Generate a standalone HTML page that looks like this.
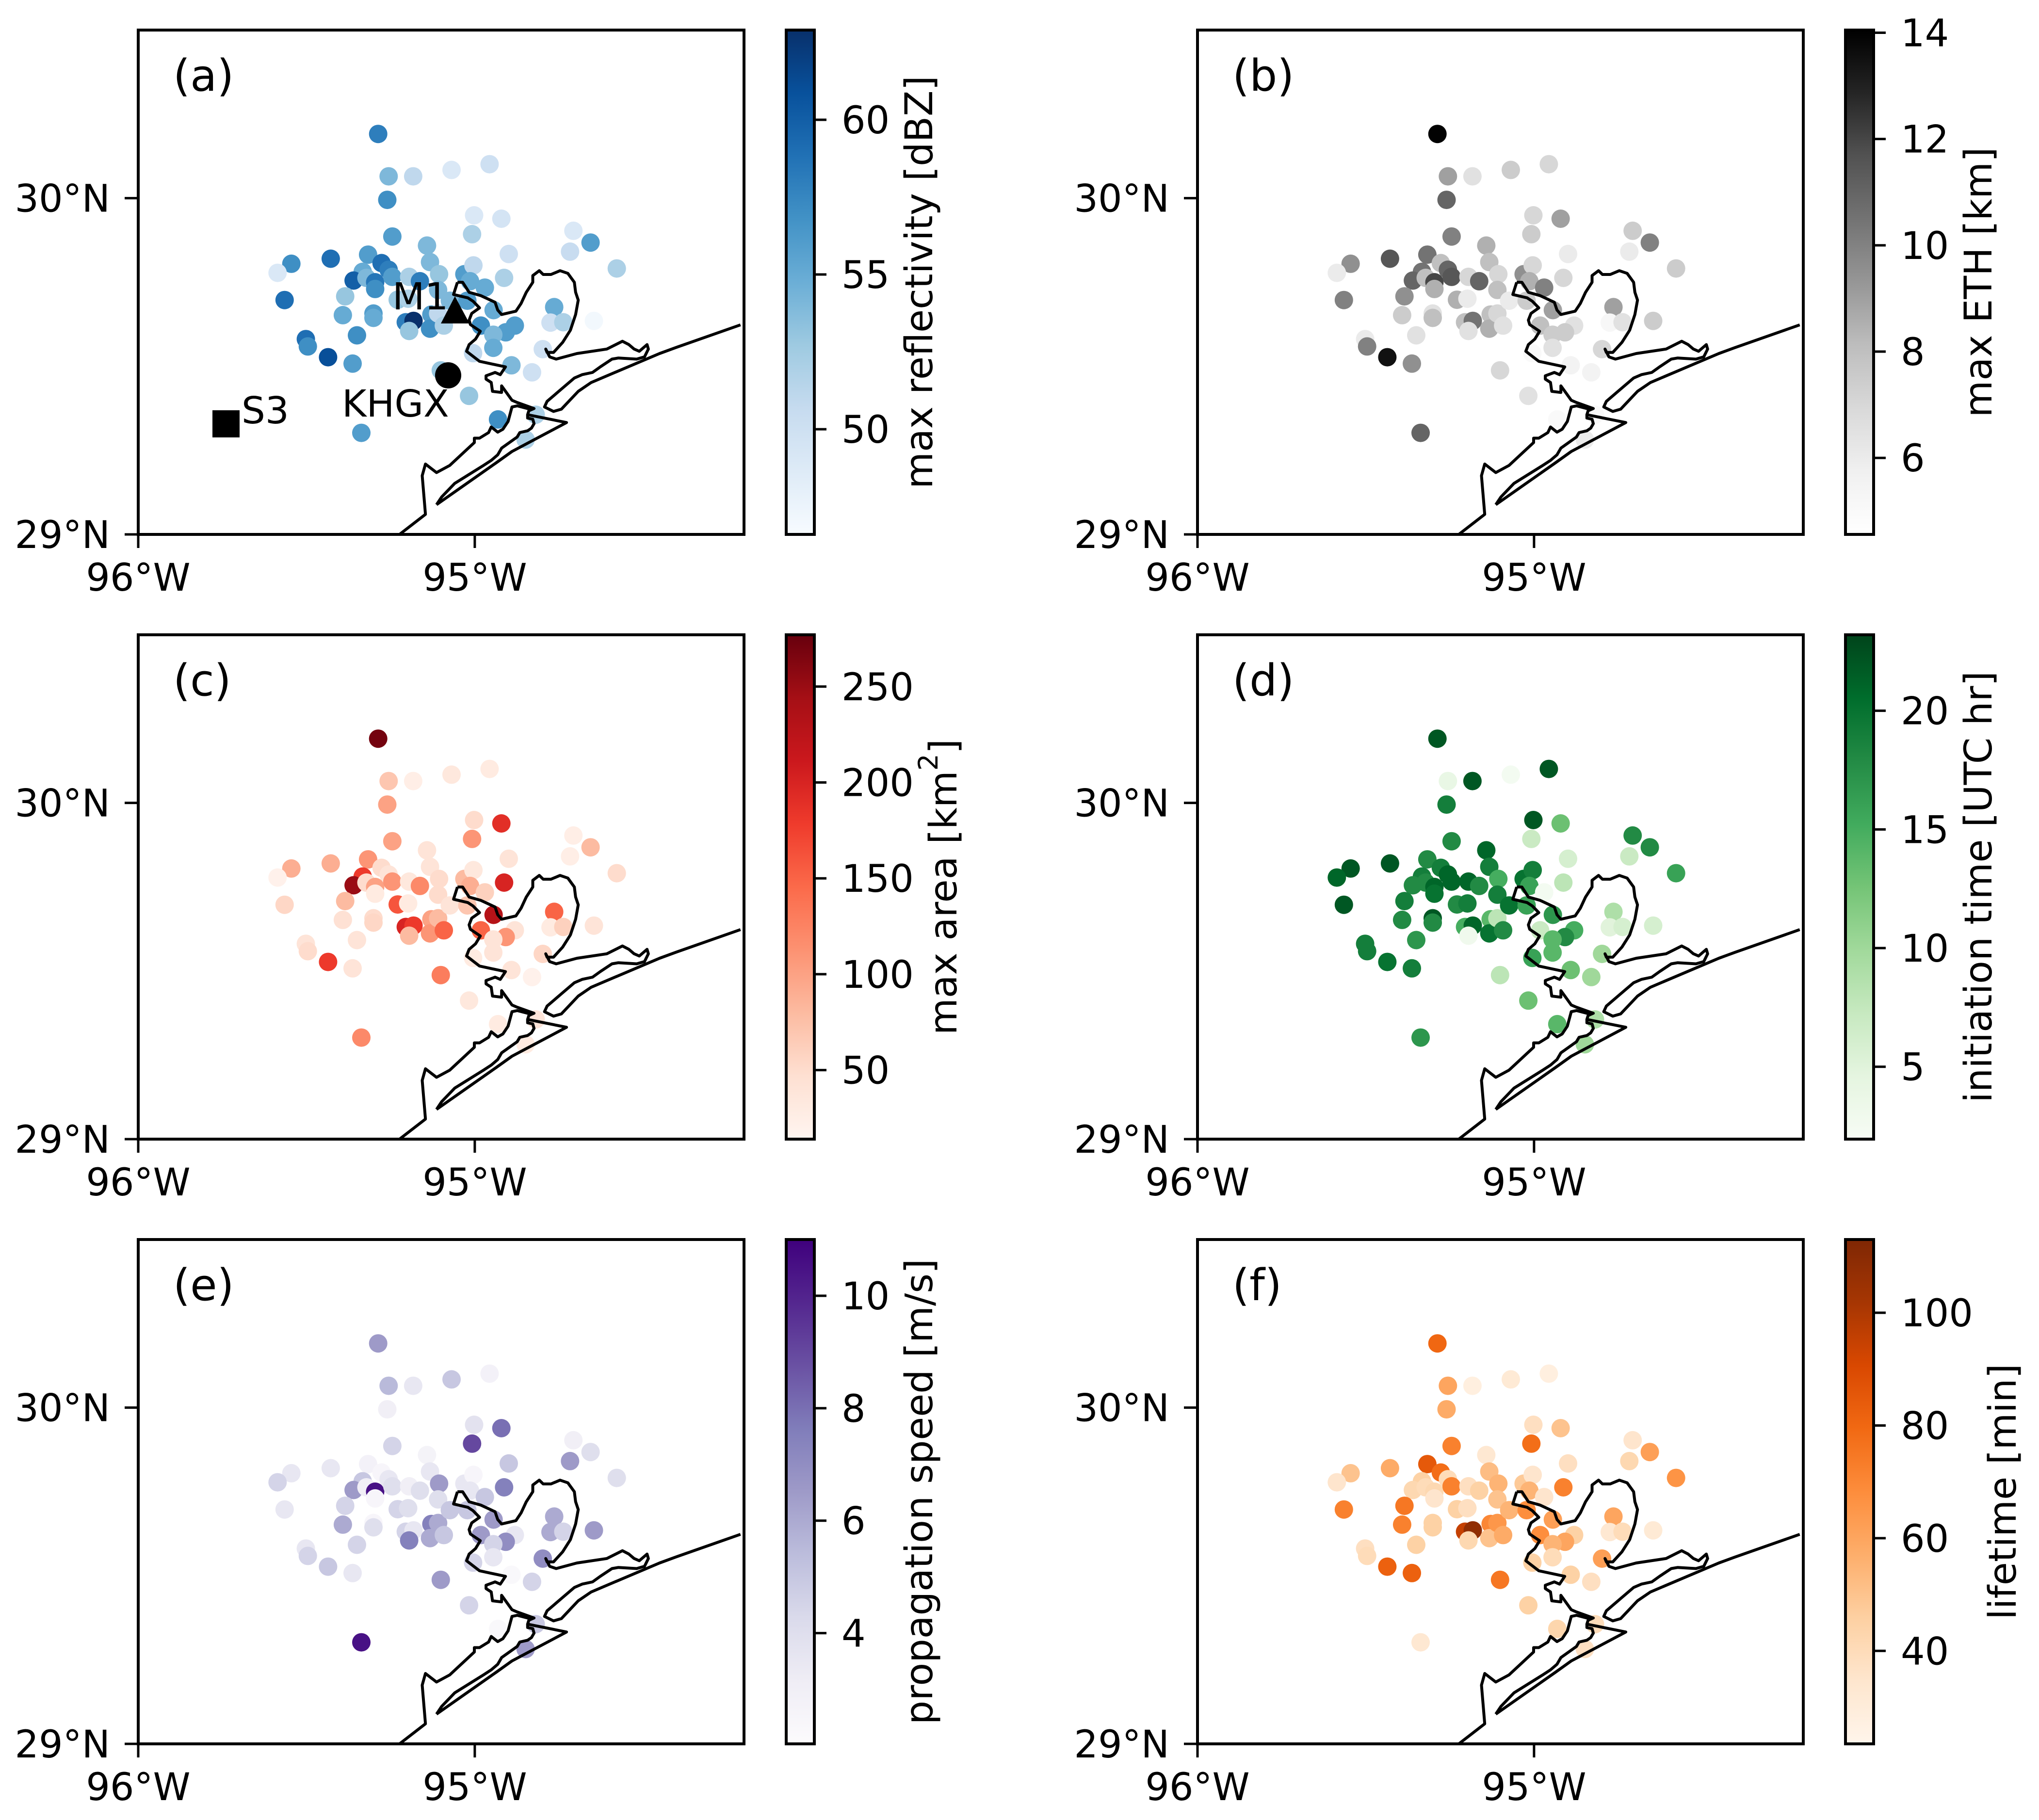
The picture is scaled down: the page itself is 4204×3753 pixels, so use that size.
<!DOCTYPE html>
<html><head><meta charset="utf-8"><style>
html,body{margin:0;padding:0;background:#fff;}
svg text{font-family:"DejaVu Sans","Liberation Sans",sans-serif;fill:#000;}
</style></head><body>
<svg id="fig" xmlns="http://www.w3.org/2000/svg" width="4204" height="3748" viewBox="0 0 4204 3748"><rect width="4204" height="3748" fill="#fff"/></svg>
<script>
// ---- data: storm locations ----
const lons = [-95.287,-95.256,-95.183,-95.069,-94.956,-95.260,-95.002,-94.921,-95.008,-95.245,
-94.707,-94.656,-94.717,-94.899,-95.142,-94.578,-95.545,-95.586,-95.428,-95.317,
-95.277,-95.256,-95.333,-95.360,-95.322,-95.296,-95.296,-95.245,-95.195,-95.163,
-95.133,-95.106,-95.031,-95.004,-95.014,-94.913,-94.970,-95.109,-95.385,-95.565,
-95.229,-95.198,-95.392,-95.301,-95.301,-95.205,-95.182,-95.195,-95.129,-95.133,
-95.109,-95.092,-95.074,-95.022,-94.944,-94.982,-94.881,-94.908,-94.945,-94.945,
-95.005,-94.764,-94.775,-94.737,-94.646,-94.798,-95.502,-95.496,-95.436,-95.350,
-95.363,-95.101,-94.891,-94.830,-95.017,-94.931,-94.819,-94.849,-95.337];
const lats = [30.191,30.065,30.065,30.084,30.101,29.995,29.949,29.939,29.893,29.886,
29.903,29.868,29.841,29.834,29.859,29.791,29.805,29.778,29.820,29.832,
29.807,29.787,29.781,29.755,29.763,29.750,29.730,29.766,29.766,29.753,
29.810,29.774,29.774,29.800,29.753,29.763,29.734,29.727,29.708,29.697,
29.698,29.701,29.652,29.657,29.644,29.631,29.635,29.605,29.654,29.612,
29.657,29.621,29.695,29.695,29.667,29.621,29.621,29.601,29.594,29.555,
29.539,29.676,29.630,29.631,29.635,29.551,29.581,29.559,29.527,29.592,
29.508,29.488,29.503,29.482,29.412,29.342,29.356,29.282,29.302];
// ---- series values ----
const reflectivity = [58,54,51,49,50,57,49,49.5,52,56, 49,56,50.5,50,54,52,57,49,59,56, 59,58,55,60,54,58.5,57,56,52,58, 54,53,56,51,55,52,55,54,53,59, 53,52,55,56,55,58,63,53,56,57, 51,52,54,56,55,57,56,56,54,55, 51,55,50,52,47,50,59,57,61,57, 56,53,54,50,53,57,52,52,56];
const eth = [14,9,6.5,7.5,7,11,7,9,7.5,10, 7.5,10,6,6,8.5,7.5,9.5,6,11.5,10.5, 8,11,10.5,11,8,12,8.5,11.5,7,11, 8,7,9.5,7,8.5,7,10,8,9.5,10, 8.5,6,7.5,6.5,8,8,10.5,6.5,8,8.5, 7,6.5,6,7.5,9,8,6.5,7.5,7.5,6.5, 5,9,5.2,6.5,7.5,7,6,10,13.5,6.5, 9.5,7,5.5,5.5,6.5,5,5,6,11];
const area = [270,70,25,35,30,100,50,190,110,100, 25,80,25,40,40,50,90,20,90,110, 50,40,180,250,50,100,30,110,35,120, 40,50,80,35,90,200,60,50,80,55, 160,30,45,50,55,200,180,80,100,110, 80,150,40,70,230,150,40,110,40,40, 30,150,30,60,40,55,40,50,180,40, 40,130,40,20,35,30,40,30,120];
const initTime = [22,4,22,2.5,22,19,22,13,7,18, 18,18,7,6,21,16,22,21,22,18, 19,21,19,18,18,21,20,21,21,18, 19,15,20,19,16,8,2.5,19,19,22, 18,19,18,22,18,15,21,3,14,20, 8,18,20,16,17,7,15,18,14,14, 16,9,5,6,6,10,19,19,20,17, 19,8,13,10,13,14,9,10,17];
const speed = [6.5,5.5,3.5,5,2.8,3,3.8,8,9,4.5, 3,4,6.5,5,2.7,4,3.5,4.5,3.5,2.8, 2.5,3.5,5,6.5,3,10.5,2.5,4,3,4, 3.5,6.5,3.5,2.5,3.5,7.5,5,4,4.5,3.5, 4.5,4,6,2.5,4,4.5,3.5,7.5,7.5,6, 6,5,5,5,6.5,6.5,3.5,7,4.5,3.5, 4.5,6,6,4.5,6.5,7,3.5,4.5,5,4.5, 3.5,6.5,2.3,4.5,4.5,2.3,5,6.5,10.5];
const lifetime = [80,60,28,32,28,58,38,50,78,72, 35,62,42,38,33,66,50,35,58,85, 78,40,45,42,40,42,35,72,38,45, 52,55,48,35,55,72,35,50,75,72, 45,38,72,45,45,95,108,42,70,50, 65,58,55,68,62,68,45,60,55,40, 45,60,33,40,32,62,38,40,82,45, 82,75,45,38,45,43,40,38,33];
// ---- axis ticks ----
const xTicks = [-96,-95];
const xTickLabels = ["96°W","95°W"];
const yTicks = [29,30];
const yTickLabels = ["29°N","30°N"];
const cbRanges = [[46.6,62.9],[4.56,14.05],[14,277],[1.95,23.2],[2.03,11.0],[23.5,113]];
const cbTicks = [[50,55,60],[6,8,10,12,14],[50,100,150,200,250],[5,10,15,20],[4,6,8,10],[40,60,80,100]];
const cbLabels = ["max reflectivity [dBZ]","max ETH [km]","max area [km²]","initiation time [UTC hr]","propagation speed [m/s]","lifetime [min]"];
const panelLetters = ["(a)","(b)","(c)","(d)","(e)","(f)"];

const CMAPS = {
 Blues:["#f7fbff","#deebf7","#c6dbef","#9ecae1","#6baed6","#4292c6","#2171b5","#08519c","#08306b"],
 Greys:["#ffffff","#f0f0f0","#d9d9d9","#bdbdbd","#969696","#737373","#525252","#252525","#000000"],
 Reds:["#fff5f0","#fee0d2","#fcbba1","#fc9272","#fb6a4a","#ef3b2c","#cb181d","#a50f15","#67000d"],
 Greens:["#f7fcf5","#e5f5e0","#c7e9c0","#a1d99b","#74c476","#41ab5d","#238b45","#006d2c","#00441b"],
 Purples:["#fcfbfd","#efedf5","#dadaeb","#bcbddc","#9e9ac8","#807dba","#6a51a3","#54278f","#3f007d"],
 Oranges:["#fff5eb","#fee6ce","#fdd0a2","#fdae6b","#fd8d3c","#f16913","#d94801","#a63603","#7f2704"]};
const panelCmaps = ["Blues","Greys","Reds","Greens","Purples","Oranges"];
const panelValues = [reflectivity,eth,area,initTime,speed,lifetime];
const panelNames = ["reflectivity","eth","area","initiation-time","propagation-speed","lifetime"];

function hex(h){return [1,3,5].map(i=>parseInt(h.substr(i,2),16));}
function cmap(name,t){t=Math.max(0,Math.min(1,t));const c=CMAPS[name];const p=t*(c.length-1);const i=Math.min(c.length-2,Math.floor(p));const f=p-i;const a=hex(c[i]),b=hex(c[i+1]);return "rgb("+a.map((v,k)=>Math.round(v+(b[k]-v)*f)).join(",")+")";}

const NS="http://www.w3.org/2000/svg";
const svg=document.getElementById('fig');
function mk(tag,attrs,parent){const e=document.createElementNS(NS,tag);for(const k in attrs)e.setAttribute(k,attrs[k]);(parent||svg).appendChild(e);return e;}

const AX_W=1249, AX_H=1040, LON0=-96, LON1=-94.2, LAT0=29, LAT1=30.5;
const colX=[285,2469], rowY=[62,1309,2556];
const FS=78;

// coastline traced in reference-pixel coordinates (geography, not data)
function z3(X,Y){return [235+X/1.867,178+Y/2.178];}
function z1(X,Y){return [X/0.7467-285,Y/1.254-62];}
const coastA=[...[[790,745],[810,745],[835,790],[880,805],[935,835],[945,870],[960,890],[1015,875],[1035,840],[1055,790],[1080,745],[1080,715],[1105,693],[1120,710],[1150,710],[1185,693],[1215,705],[1240,745],[1245,790],[1255,825],[1245,890],[1225,960],[1195,1015],[1160,1060],[1135,1060],[1130,1045],[1145,1080],[1170,1090],[1250,1065],[1365,1045],[1425,1010],[1450,1025],[1470,1045],[1490,1055],[1520,1025],[1525,1045],[1510,1080],[1480,1090],[1410,1085],[1385,1090],[1340,1125],[1310,1150],[1270,1160],[1240,1175],[1190,1225],[1135,1280],[1125,1305],[1160,1325],[1190,1315],[1255,1235],[1305,1195],[1568,1065]].map(p=>z3(...p)),z1(1040,899),z1(1140,840)];
const coastB=[[790,745],[775,800],[830,815],[850,830],[875,860],[845,885],[835,915],[840,935],[878,965],[860,1000],[835,1025],[825,1055],[875,1100],[975,1125],[955,1160],[935,1150],[900,1165],[900,1180],[920,1195],[925,1235],[960,1240],[960,1210],[1000,1275],[1020,1285],[1085,1312],[1065,1322],[1060,1340],[1210,1375],[1000,1505],[940,1555]].map(p=>z3(...p)).concat([z1(672,1305)]);
const coastC=[[1060,1340],[1060,1355],[1080,1360],[1085,1380],[1075,1400],[1060,1412],[1030,1420],[1020,1440],[960,1490],[945,1520],[920,1545],[890,1568]].map(p=>z3(...p)).concat([z1(700,1250),z1(680,1285),z1(672,1305)]);
const coastD=[[1070,1315],[1020,1300],[1000,1305],[985,1370],[965,1405],[945,1418],[920,1395],[910,1420],[875,1445],[855,1445],[855,1465],[760,1568]].map(p=>z3(...p)).concat([z1(672,1222),z1(655,1200),z1(650,1230),z1(655,1330),z1(615,1382)]);

for(let p=0;p<6;p++){
  const x0=colX[p%2], y0=rowY[Math.floor(p/2)];
  const xs=lon=>x0+(lon-LON0)/(LON1-LON0)*AX_W;
  const ys=lat=>y0+AX_H-(lat-LAT0)/(LAT1-LAT0)*AX_H;
  const g=mk('g',{});
  
  
  const cid='clip'+p;
  const cp=mk('clipPath',{id:cid},g); mk('rect',{x:x0,y:y0,width:AX_W,height:AX_H},cp);
  // points
  const vals=panelValues[p], rng=cbRanges[p];
  const pg=mk('g',{'clip-path':'url(#'+cid+')'},g);
  
  
  for(let i=0;i<lons.length;i++){
    const c=mk('circle',{cx:xs(lons[i]).toFixed(1),cy:ys(lats[i]).toFixed(1),r:19,fill:cmap(panelCmaps[p],(vals[i]-rng[0])/(rng[1]-rng[0]))},pg);
    
    
  }
  // coastline (drawn on top of points)
  const cg=mk('g',{'clip-path':'url(#'+cid+')'},g);
  
  
  [coastA,coastB,coastC,coastD].forEach(c=>{
    mk('polyline',{points:c.map(q=>(x0+q[0]).toFixed(1)+','+(y0+q[1]).toFixed(1)).join(' '),fill:'none',stroke:'#000','stroke-width':6,'stroke-linejoin':'round'},cg);
  });
  // axes frame
  const fr=mk('rect',{x:x0,y:y0,width:AX_W,height:AX_H,fill:'none',stroke:'#000','stroke-width':6},g);
  
  
  // ticks
  xTicks.forEach((t,i)=>{
    const x=xs(t);
    mk('line',{x1:x,x2:x,y1:y0+AX_H,y2:y0+AX_H+28,stroke:'#000','stroke-width':5},g);
    const tx=mk('text',{x:x,y:y0+AX_H+116,'font-size':FS,'text-anchor':'middle'},g);
    tx.textContent=xTickLabels[i];
    
    
  });
  yTicks.forEach((t,i)=>{
    const y=ys(t);
    mk('line',{x1:x0-28,x2:x0,y1:y,y2:y,stroke:'#000','stroke-width':5},g);
    const tx=mk('text',{x:x0-58,y:y+28,'font-size':FS,'text-anchor':'end'},g);
    tx.textContent=yTickLabels[i];
    
    
  });
  // panel letter
  const lt=mk('text',{x:x0+72,y:y0+125,'font-size':90},g);
  lt.textContent=panelLetters[p];
  
  
  // colorbar
  const cbx=x0+1336, cbw=58;
  const gid='grad'+p;
  const lg=mk('linearGradient',{id:gid,x1:0,y1:1,x2:0,y2:0},g);
  CMAPS[panelCmaps[p]].forEach((c,i,a)=>mk('stop',{offset:(i/(a.length-1)),'stop-color':c},lg));
  const cb=mk('rect',{x:cbx,y:y0,width:cbw,height:AX_H,fill:'url(#'+gid+')',stroke:'#000','stroke-width':6},g);
  
  
  let maxW=0;
  cbTicks[p].forEach(t=>{
    const y=y0+AX_H-(t-rng[0])/(rng[1]-rng[0])*AX_H;
    mk('line',{x1:cbx+cbw,x2:cbx+cbw+25,y1:y,y2:y,stroke:'#000','stroke-width':5},g);
    const tx=mk('text',{x:cbx+114,y:y+28,'font-size':FS},g);
    tx.textContent=String(t);
    
    
    maxW=Math.max(maxW,String(t).length*0.636*FS);
  });
  const lx=cbx+114+maxW+62, ly=y0+AX_H/2;
  const cl=mk('text',{x:lx,y:ly,'font-size':FS,'text-anchor':'middle','dominant-baseline':'central',transform:'rotate(-90 '+lx+' '+ly+')'},g);
  if(p===2){cl.innerHTML='max area [km<tspan baseline-shift="super" font-size="55">2</tspan>]';}
  else cl.textContent=cbLabels[p];
  
  
}

// site markers in panel (a)
const sg=mk('g',{});


const tri=mk('polygon',{points:'938,611 909,667 968,667',fill:'#000'},sg);


const kc=mk('circle',{cx:924,cy:774,r:27,fill:'#000'},sg);


const sq=mk('rect',{x:438,y:846,width:56,height:56,fill:'#000'},sg);


[['M1',809,638,'m1-label'],['KHGX',705,859,'khgx-label'],['S3',498,873,'s3-label']].forEach(a=>{
  const t=mk('text',{x:a[1],y:a[2],'font-size':77},sg);
  t.textContent=a[0];
  
  
});
</script>
</body></html>
